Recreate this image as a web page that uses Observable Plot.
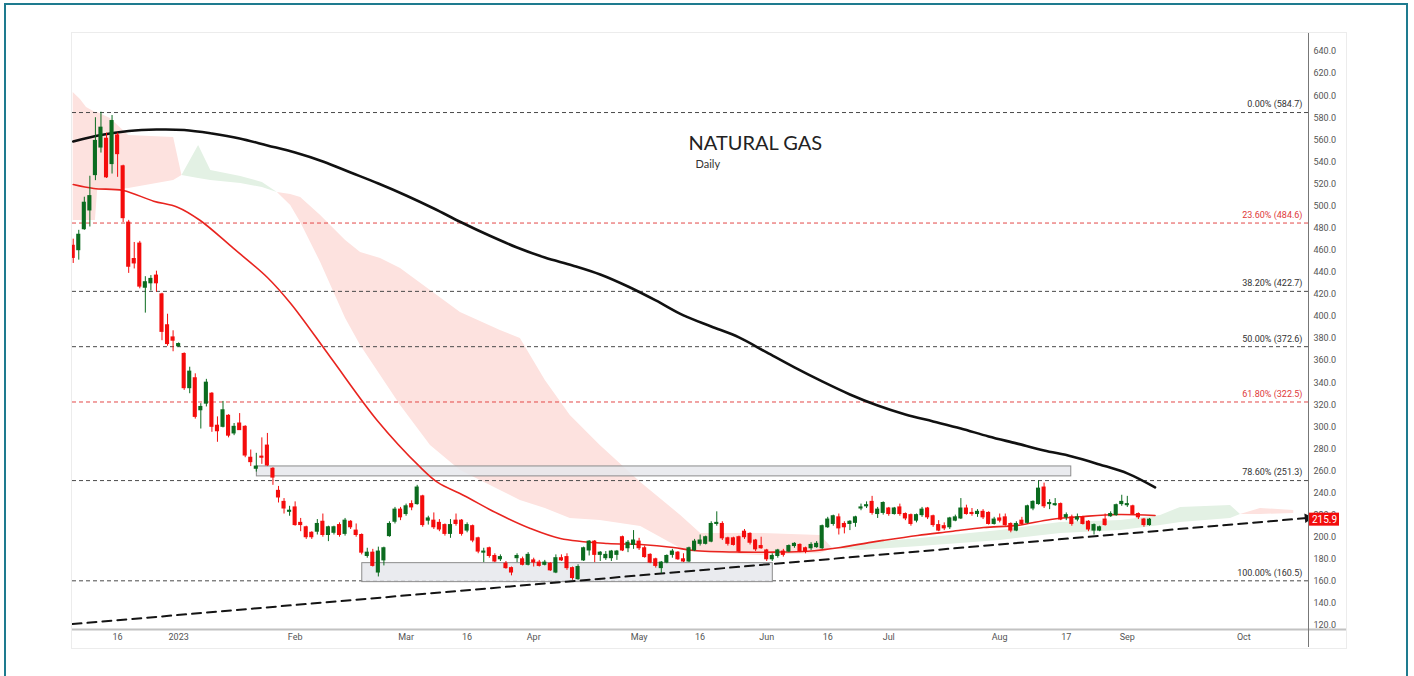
<!DOCTYPE html>
<html><head><meta charset="utf-8">
<script src="https://cdn.jsdelivr.net/npm/d3@7"></script>
<script src="https://cdn.jsdelivr.net/npm/@observablehq/plot@0.6"></script>
<style>
body{margin:0;background:#fff;}
#wrap{position:relative;width:1414px;height:676px;overflow:hidden;background:#fff;}
#outer{position:absolute;left:4px;top:3px;width:1404px;height:700px;border:2px solid #1e7b8f;box-sizing:border-box;pointer-events:none;}
#panel{position:absolute;left:71px;top:32px;width:1276px;height:617px;border:1px solid #ececec;box-sizing:border-box;pointer-events:none;}
#chart{position:absolute;left:0;top:0;}
</style>
</head><body>
<div id="wrap"><div id="chart"></div><div id="panel"></div><div id="outer"></div></div>
<script>
// ---- Daily candles (bar order) ----
const opens  = [464,460,479,496,528,553,561,538,564,536,485,452,466,426,430,437,420,392,381,373,366,335,344,315,321,330,301,300,310,294,303,300,272,262,273,283,262,242,232,223,227,213,209,204,205,214,202,204,211,203,214,206,202,183,186,168,179,201,214,225,221,230,230,237,215,215,213,211,203,215,215,206,210,199,186,190,183,180,176,172,181,180,175,179,177,175,176,168,181,182,172,162,179,188,196,184,181,181,184,200,190,193,196,190,184,180,172,177,184,186,180,178,188,194,194,196,212,212,199,199,200,205,203,197,192,188,180,183,187,187,192,193,190,190,191,190,209,212,218,212,212,213,226,228,232,221,222,226,221,227,221,220,215,220,226,219,211,210,209,215,217,226,222,221,223,222,212,217,218,212,206,215,213,226,230,245,230,229,230,218,218,216,218,214,206,206,216,219,220,230,229,228,221,216,211];
const highs  = [470,478,508,527,580,585,566,582,566,537,487,467,468,436,437,441,421,402,387,376,367,354,348,321,343,331,309,323,311,303,312,301,279,276,290,294,263,246,235,228,232,217,210,205,216,221,210,210,213,217,215,212,203,190,189,191,191,214,227,227,230,233,247,238,219,222,216,212,216,221,216,213,211,200,190,191,185,184,178,173,185,182,186,181,179,179,177,184,184,185,173,175,191,197,197,187,187,188,188,201,197,206,199,192,185,181,178,184,189,187,185,191,198,202,201,214,223,214,200,200,201,207,204,198,200,189,185,189,189,193,195,194,191,195,196,211,218,220,221,214,215,219,230,232,237,227,232,227,227,230,222,221,221,227,227,220,215,213,218,220,235,229,226,225,225,223,218,221,221,213,214,218,229,233,251,249,234,235,231,222,220,221,219,215,212,210,221,223,230,238,237,229,222,217,217];
const lows   = [448,451,478,481,523,548,525,529,526,485,439,443,425,403,423,422,378,373,368,372,333,330,307,298,318,295,286,299,290,292,297,272,264,259,266,264,247,231,221,219,210,205,198,198,202,200,196,202,200,201,207,200,184,181,173,164,174,200,212,215,219,224,229,209,211,207,205,201,199,210,201,204,195,185,177,181,177,178,171,165,177,174,174,173,173,174,169,167,178,170,161,161,178,183,177,178,179,178,179,187,186,189,188,181,176,172,167,176,181,179,177,177,187,192,193,195,210,197,192,192,186,198,193,187,189,178,178,181,182,186,190,186,185,188,190,189,208,210,202,203,206,209,224,226,220,217,220,219,220,219,215,210,213,218,216,209,205,206,207,214,216,220,219,218,216,211,211,213,210,204,205,211,212,224,229,226,225,228,215,215,210,214,211,205,202,205,210,218,219,228,227,220,216,209,210];
const closes = [453,474,503,509,559,571,526,577,547,489,445,448,427,431,434,430,386,375,378,375,335,350,309,318,340,300,296,315,292,300,297,274,268,264,272,265,254,236,226,224,211,211,200,200,212,202,209,209,202,215,209,202,186,186,174,187,190,212,225,218,228,227,245,211,217,209,207,203,211,212,203,211,197,187,187,183,178,182,172,168,183,175,184,177,174,177,170,181,179,172,163,173,190,196,184,186,184,187,187,188,195,197,190,182,177,174,177,183,187,180,178,190,196,197,200,212,213,199,194,193,187,200,195,189,190,180,183,188,184,192,194,187,187,193,194,210,216,219,208,209,214,218,227,229,222,225,231,221,226,221,217,212,220,225,218,211,206,208,217,218,226,221,221,223,218,212,216,215,211,206,212,212,228,232,244,228,231,230,216,220,212,218,212,207,211,209,211,221,229,232,230,221,218,211,215.9];

// ---- Moving averages (bar index, value) ----
const maSlowIdx = [0,5,10,15,20,25,30,35,40,45,50,55,60,65,70,75,80,85,90,95,100,105,110,115,120,125,130,135,140,145,150,155,160,165,170,175,180,185,190,195];
const maSlowVal = [558.5,564.4,568,569.3,568.9,565.7,561.2,554.9,548.5,540.4,530.4,520.4,509.6,497.8,485.1,473.3,462.5,453.4,446.2,438,427.1,414.5,400.9,390.9,381,367.4,353.8,341.1,329.3,319.3,311.2,304.9,298.5,291.3,285,278.6,273.2,265.9,257.8,245.1];
const maFastIdx = [0,3.7,9,14.5,18.8,22.9,28.9,35,39.2,46.4,54.8,62.6,65.7,70.4,76.5,82.4,87.8,96.3,102.3,108.2,111.8,120.3,126.2,132.4,138.3,143.7,146,152.2,158.2,164.1,170.2,176.2,182.1,188.2,195];
const maFastVal = [519.5,515.9,514.1,504.4,499,486.9,461.6,435.3,411.7,362.8,305.8,263.2,249.6,237.8,221.4,207.9,198.9,194.3,193.4,190.7,188,186.5,186.5,187.3,190.7,195.3,197.1,201.6,205.2,208.8,210.7,216.1,218.8,220.6,219.7];

// ---- Ichimoku cloud spans (bar index, span A, span B) ----
const cloudIdx = [0,1.3,2.4,4.0,4.4,6.7,10,18.1,19.6,22.6,24.8,30.2,34.1,36.8,39.2,41,44.6,49.1,51.8,55.4,59,64.4,69.8,77,80.6,85.1,89.6,95,102.3,109.5,113.1,123.9,134.7,136.9,141.9,152.7,167.1,178,188.8,196,199.6,208.6,210.4,214,220];
const spanA = [486.9,486.9,486.9,486.9,514.1,514.1,515.9,523.2,527.7,554.9,532.2,526.8,521.3,512.3,500.5,485.1,448.9,398.2,373.7,346.5,319.3,283.1,260.5,242.4,233.3,226,217,215.2,209.8,189.8,186.2,183.5,185.3,189.8,194.3,198.9,206.1,213.4,215.2,219.7,227,228.8,220.6,220.6,221.5];
const spanB = [602.9,596.5,589.3,584.7,584.7,579.3,563.9,562.1,527.7,525,523.2,520.4,516.8,512.3,510.5,507.8,491.4,468.8,457.9,452.5,443.4,423.5,403.6,387.3,380,342,310.3,283.1,249.6,219.7,203.4,203.4,201.6,189.8,188,191.6,197.1,203.4,206.1,210.7,213.4,217,220.6,226,224.3];

// ---- Fibonacci retracement ----
const fibPct = ["0.00%","23.60%","38.20%","50.00%","61.80%","78.60%","100.00%"];
const fibVal = [584.7,484.6,422.7,372.6,322.5,251.3,160.5];

// ---- Zones (bar index range, price range) ----
const zoneFrom = [33.1,52.1];
const zoneTo   = [179.9,126.1];
const zoneLow  = [255.1,159.3];
const zoneHigh = [264.1,176.5];

// ---- Trend line (bar index, price) ----
const trendIdx = [-0.13,222.5];
const trendVal = [121.3,217.4];

// ---- Axes ----
const tickIdx = [8,19,40,60,71,83,102,113,125,136,147,167,179,190,211];
const tickLabel = ["16","2023","Feb","Mar","16","Apr","May","16","Jun","16","Jul","Aug","17","Sep","Oct"];
const yTicks = d3.range(120, 641, 20);
const lastPrice = 215.9;

// ---- Build tables ----
const bars = opens.map((o,i)=>({i, o, h: highs[i], l: lows[i], c: closes[i], up: closes[i] >= o}));
const maSlow = maSlowIdx.map((i,k)=>({i, v: maSlowVal[k]}));
const maFast = maFastIdx.map((i,k)=>({i, v: maFastVal[k]}));
const cloud = cloudIdx.map((i,k)=>({i, a: spanA[k], b: spanB[k]}));
const fibs = fibVal.map((v,k)=>({v, label: `${fibPct[k]} (${v.toFixed(1)})`, red: fibPct[k]==="23.60%"||fibPct[k]==="61.80%"}));
const zones = zoneFrom.map((f,k)=>({x1: f, x2: zoneTo[k], y1: zoneLow[k], y2: zoneHigh[k]}));
const trend = trendIdx.map((i,k)=>({i, v: trendVal[k]}));
const ticks = tickIdx.map((i,k)=>({i, label: tickLabel[k]}));

const xmin = -0.13, xmax = 222.66;
const GREEN = "#0b6b1f", RED = "#f40c0c";

const chart = Plot.plot({
  width: 1414, height: 676,
  marginLeft: 72, marginRight: 106, marginTop: 33, marginBottom: 47,
  style: {background: "transparent", fontFamily: "Roboto, 'Liberation Sans', sans-serif", fontSize: "9px"},
  x: {domain: [xmin, xmax], axis: null},
  y: {domain: [116.4, 656.3], axis: null},
  marks: [
    // cloud
    Plot.areaY(cloud, {x: "i", y1: "a", y2: d => Math.max(d.a, d.b), fill: "#fde2df", clip: true}),
    Plot.areaY(cloud, {x: "i", y1: "b", y2: d => Math.max(d.a, d.b), fill: "#e3f1e4", clip: true}),
    // fib levels
    Plot.ruleY(fibs, {y: "v", stroke: d => d.red ? "#e34848" : "#4a4a4a", strokeDasharray: "4,3", strokeWidth: 1}),
    Plot.text(fibs, {y: "v", text: "label", frameAnchor: "right", textAnchor: "end", lineAnchor: "middle", dx: -6, dy: -8, fill: d => d.red ? "#e03a3a" : "#333", fontSize: 9}),
    // zones
    Plot.rect(zones, {x1: "x1", x2: "x2", y1: "y1", y2: "y2", fill: "#e6e7ec", fillOpacity: 0.85, stroke: "#8c8c8c", strokeWidth: 1}),
    // moving averages
    Plot.line(maSlow, {x: "i", y: "v", stroke: "#111", strokeWidth: 2.6, curve: "catmull-rom"}),
    Plot.line(maFast, {x: "i", y: "v", stroke: "#e8241f", strokeWidth: 1.6, curve: "catmull-rom"}),
    // trend line
    Plot.line(trend, {x: "i", y: "v", stroke: "#141414", strokeWidth: 2, strokeDasharray: "9,6"}),
    Plot.dot(trend.slice(-1), {x: "i", y: "v", symbol: "triangle", r: 3.6, fill: "#141414", rotate: 84}),
    // candles
    Plot.ruleX(bars, {x: "i", y1: "l", y2: "h", stroke: d => d.up ? GREEN : RED, strokeWidth: 1, clip: true}),
    Plot.rect(bars, {x1: d => d.i - 0.37, x2: d => d.i + 0.37, y1: "o", y2: "c", fill: d => d.up ? GREEN : RED, insetTop: -0.5, insetBottom: -0.5, clip: true}),
    // axes
    Plot.ruleY([116.4], {stroke: "#c2c2c2", strokeWidth: 2, insetRight: -38}),
    Plot.ruleX([xmax], {stroke: "#777", strokeWidth: 1, insetBottom: -18}),
    Plot.axisY({anchor: "right", ticks: yTicks, tickFormat: d => d.toFixed(1), tickSize: 0, tickPadding: 5, fontSize: 9, color: "#555", label: null}),
    Plot.text(ticks, {x: "i", text: "label", frameAnchor: "bottom", lineAnchor: "top", dy: 4, fill: "#555", fontSize: 9}),
    // last price tag
    Plot.rect([lastPrice], {x1: () => xmax, x2: () => xmax, y1: d => d, y2: d => d, fill: "#f20d0d", insetLeft: 1, insetRight: -31, insetTop: -6.5, insetBottom: -6.5}),
    Plot.text([lastPrice], {x: () => xmax, y: d => d, text: d => d.toFixed(1), dx: 16, fill: "white", fontSize: 10}),
    // title
    Plot.text(["NATURAL GAS"], {frameAnchor: "top-left", dx: 616, dy: 110, textAnchor: "start", lineAnchor: "middle", fontSize: 20, fill: "#222", fontFamily: "Lato, 'Open Sans', sans-serif"}),
    Plot.text(["Daily"], {frameAnchor: "top-left", dx: 623, dy: 131, textAnchor: "start", lineAnchor: "middle", fontSize: 11, fill: "#333", fontFamily: "Lato, 'Open Sans', sans-serif"})
  ]
});
document.getElementById("chart").appendChild(chart);
</script>
</body></html>
